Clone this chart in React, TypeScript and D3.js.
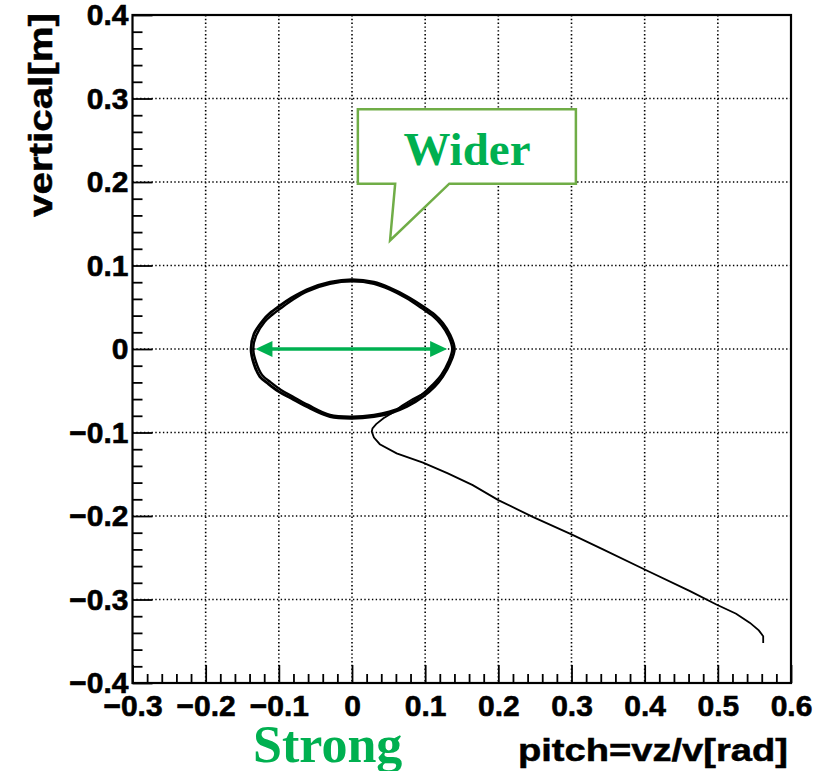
import React, { useEffect, useRef } from "react";
import * as d3 from "d3";

// phase-space plot: pitch vs vertical position

const xTicks = [-0.3, -0.2, -0.1, 0, 0.1, 0.2, 0.3, 0.4, 0.5, 0.6];
const yTicks = [-0.4, -0.3, -0.2, -0.1, 0, 0.1, 0.2, 0.3, 0.4];

// outer orbit of the closed loop
const loop1X = [0, 0.03, 0.052, 0.075, 0.097, 0.113, 0.124, 0.134, 0.140, 0.134, 0.124, 0.113, 0.097, 0.075, 0.052, 0.03, 0, -0.03, -0.062, -0.083, -0.100, -0.114, -0.126, -0.134, -0.138, -0.134, -0.121, -0.112, -0.100, -0.083, -0.062, -0.030];
const loop1Y = [0.083, 0.080, 0.073, 0.063, 0.051, 0.041, 0.031, 0.017, 0, -0.017, -0.033, -0.045, -0.057, -0.069, -0.077, -0.081, -0.083, -0.081, -0.069, -0.059, -0.051, -0.042, -0.033, -0.018, 0, 0.018, 0.035, 0.043, 0.051, 0.061, 0.071, 0.080];
// inner orbit
const loop2X = [0, 0.03, 0.052, 0.074, 0.095, 0.111, 0.122, 0.132, 0.137, 0.132, 0.122, 0.110, 0.095, 0.074, 0.051, 0.03, 0, -0.03, -0.06, -0.081, -0.097, -0.111, -0.123, -0.131, -0.135, -0.131, -0.119, -0.109, -0.097, -0.081, -0.061, -0.03];
const loop2Y = [0.081, 0.078, 0.071, 0.061, 0.049, 0.039, 0.029, 0.015, 0, -0.015, -0.031, -0.043, -0.055, -0.067, -0.075, -0.079, -0.081, -0.079, -0.067, -0.057, -0.049, -0.040, -0.031, -0.016, 0, 0.016, 0.033, 0.041, 0.049, 0.059, 0.069, 0.078];

// the trajectory leaving the loop
const tailX = [0.124, 0.112, 0.100, 0.083, 0.068, 0.056, 0.043, 0.033, 0.028, 0.027, 0.030, 0.038, 0.061, 0.097, 0.131, 0.165, 0.200, 0.247, 0.300, 0.343, 0.400, 0.462, 0.498, 0.525, 0.544, 0.556, 0.562, 0.562];
const tailY = [-0.033, -0.043, -0.052, -0.060, -0.068, -0.076, -0.083, -0.090, -0.095, -0.099, -0.106, -0.114, -0.125, -0.136, -0.149, -0.163, -0.181, -0.201, -0.222, -0.240, -0.264, -0.290, -0.306, -0.317, -0.328, -0.337, -0.344, -0.352];

// annotations (data units)
const arrowX = [-0.132, 0.130];
const calloutBox = { x0: 0.008, x1: 0.306, y0: 0.198, y1: 0.287 };
const calloutTail = { xl: 0.059, xr: 0.133, tipX: 0.052, tipY: 0.130 };

const fmt = (v: number) => (Math.abs(v) < 1e-9 ? "0" : (v < 0 ? "\u2212" : "") + Math.abs(v).toFixed(1));

export default function App() {
  const ref = useRef<SVGSVGElement>(null);

  useEffect(() => {
    const svg = d3.select(ref.current);
    svg.selectAll("*").remove();

    const x = d3.scaleLinear().domain([-0.3, 0.6]).range([132.5, 791]);
    const y = d3.scaleLinear().domain([-0.4, 0.4]).range([683, 15]);
    const font = "'Liberation Sans', Arial, Helvetica, sans-serif";

    const minorX = d3.range(-0.3, 0.6001, 0.02).filter((v) => Math.abs(Math.round(v * 10) - v * 10) > 1e-6);
    const minorY = d3.range(-0.4, 0.4001, 0.02).filter((v) => Math.abs(Math.round(v * 10) - v * 10) > 1e-6);

    // grid
    const grid = svg.append("g");
    grid.selectAll(".gx").data(xTicks.slice(1, -1)).join("line")
      .attr("x1", (d) => x(d)).attr("x2", (d) => x(d))
      .attr("y1", y(0.4)).attr("y2", y(-0.4))
      .attr("stroke", "#000").attr("stroke-width", 1.6).attr("stroke-dasharray", "1.4 2.4");
    grid.selectAll(".gy").data(yTicks.slice(1, -1)).join("line")
      .attr("y1", (d) => y(d)).attr("y2", (d) => y(d))
      .attr("x1", x(-0.3)).attr("x2", x(0.6))
      .attr("stroke", "#000").attr("stroke-width", 1.6).attr("stroke-dasharray", "1.4 2.4");

    // axes
    const bottom = svg.append("g").attr("transform", `translate(0,${y(-0.4)})`);
    bottom.call(d3.axisBottom(x).tickValues(xTicks).tickSize(-18).tickPadding(12).tickFormat((d) => fmt(+d)));
    bottom.append("g").call(d3.axisBottom(x).tickValues(minorX).tickSize(-9).tickFormat(() => ""));
    const left = svg.append("g").attr("transform", `translate(${x(-0.3)},0)`);
    left.call(d3.axisLeft(y).tickValues(yTicks).tickSize(-20).tickPadding(4).tickFormat((d) => fmt(+d)));
    left.append("g").call(d3.axisLeft(y).tickValues(minorY).tickSize(-10).tickFormat(() => ""));

    svg.selectAll(".domain").remove();
    svg.selectAll(".tick line").attr("stroke", "#000").attr("stroke-width", 1.8);
    svg.selectAll(".tick text")
      .attr("font-family", font).attr("font-weight", "bold").attr("font-size", 30).attr("fill", "#000")
      .attr("stroke", "#000").attr("stroke-width", 0.6);

    // frame
    svg.append("rect")
      .attr("x", x(-0.3)).attr("y", y(0.4))
      .attr("width", x(0.6) - x(-0.3)).attr("height", y(-0.4) - y(0.4))
      .attr("fill", "none").attr("stroke", "#000").attr("stroke-width", 2.2);

    // curves
    const closed = (xs: number[], ys: number[]) =>
      d3.line<number>().x((d) => x(xs[d])).y((d) => y(ys[d])).curve(d3.curveCatmullRomClosed)(d3.range(xs.length));
    svg.append("path").attr("d", closed(loop1X, loop1Y)!).attr("fill", "none").attr("stroke", "#000").attr("stroke-width", 2.8);
    svg.append("path").attr("d", closed(loop2X, loop2Y)!).attr("fill", "none").attr("stroke", "#000").attr("stroke-width", 2.4);
    const tail = d3.line<number>().x((d) => x(tailX[d])).y((d) => y(tailY[d])).curve(d3.curveLinear);
    svg.append("path").attr("d", tail(d3.range(tailX.length))!).attr("fill", "none").attr("stroke", "#000").attr("stroke-width", 1.8);

    // green double arrow
    const green = "#00B050";
    const ay = y(0);
    const ax0 = x(arrowX[0]);
    const ax1 = x(arrowX[1]);
    svg.append("line").attr("x1", ax0 + 12).attr("x2", ax1 - 12).attr("y1", ay).attr("y2", ay)
      .attr("stroke", green).attr("stroke-width", 3.5);
    svg.append("path").attr("d", `M${ax0},${ay} L${ax0 + 17},${ay - 8} L${ax0 + 17},${ay + 8} Z`).attr("fill", green);
    svg.append("path").attr("d", `M${ax1},${ay} L${ax1 - 17},${ay - 8} L${ax1 - 17},${ay + 8} Z`).attr("fill", green);

    // callout
    const b = calloutBox, t = calloutTail;
    svg.append("path")
      .attr("d", `M${x(b.x0)},${y(b.y1)} H${x(b.x1)} V${y(b.y0)} H${x(t.xr)} L${x(t.tipX)},${y(t.tipY)} L${x(t.xl)},${y(b.y0)} H${x(b.x0)} Z`)
      .attr("fill", "#fff").attr("stroke", "#70AD47").attr("stroke-width", 2.5);
    svg.append("text").attr("x", 467).attr("y", 165).attr("text-anchor", "middle")
      .attr("font-family", "'Liberation Serif', 'Times New Roman', serif").attr("font-weight", "bold")
      .attr("font-size", 47).attr("fill", green).text("Wider");

    svg.append("text").attr("x", 253).attr("y", 762)
      .attr("font-family", "'Liberation Serif', 'Times New Roman', serif").attr("font-weight", "bold")
      .attr("font-size", 52).attr("fill", green).text("Strong");

    // axis titles
    svg.append("text").attr("x", 788).attr("y", 761).attr("text-anchor", "end")
      .attr("font-family", font).attr("font-weight", "bold").attr("font-size", 31)
      .attr("textLength", 270).attr("lengthAdjust", "spacingAndGlyphs")
      .attr("stroke", "#000").attr("stroke-width", 0.5)
      .text("pitch=vz/v[rad]");
    svg.append("text").attr("transform", "translate(52,13) rotate(-90)").attr("text-anchor", "end")
      .attr("font-family", font).attr("font-weight", "bold").attr("font-size", 33)
      .attr("textLength", 204).attr("lengthAdjust", "spacingAndGlyphs")
      .attr("stroke", "#000").attr("stroke-width", 0.5)
      .text("vertical[m]");
  }, []);

  return (
    <svg ref={ref} width={814} height={771}
      style={{ position: "absolute", left: 0, top: 0, background: "#fff", display: "block" }} />
  );
}
